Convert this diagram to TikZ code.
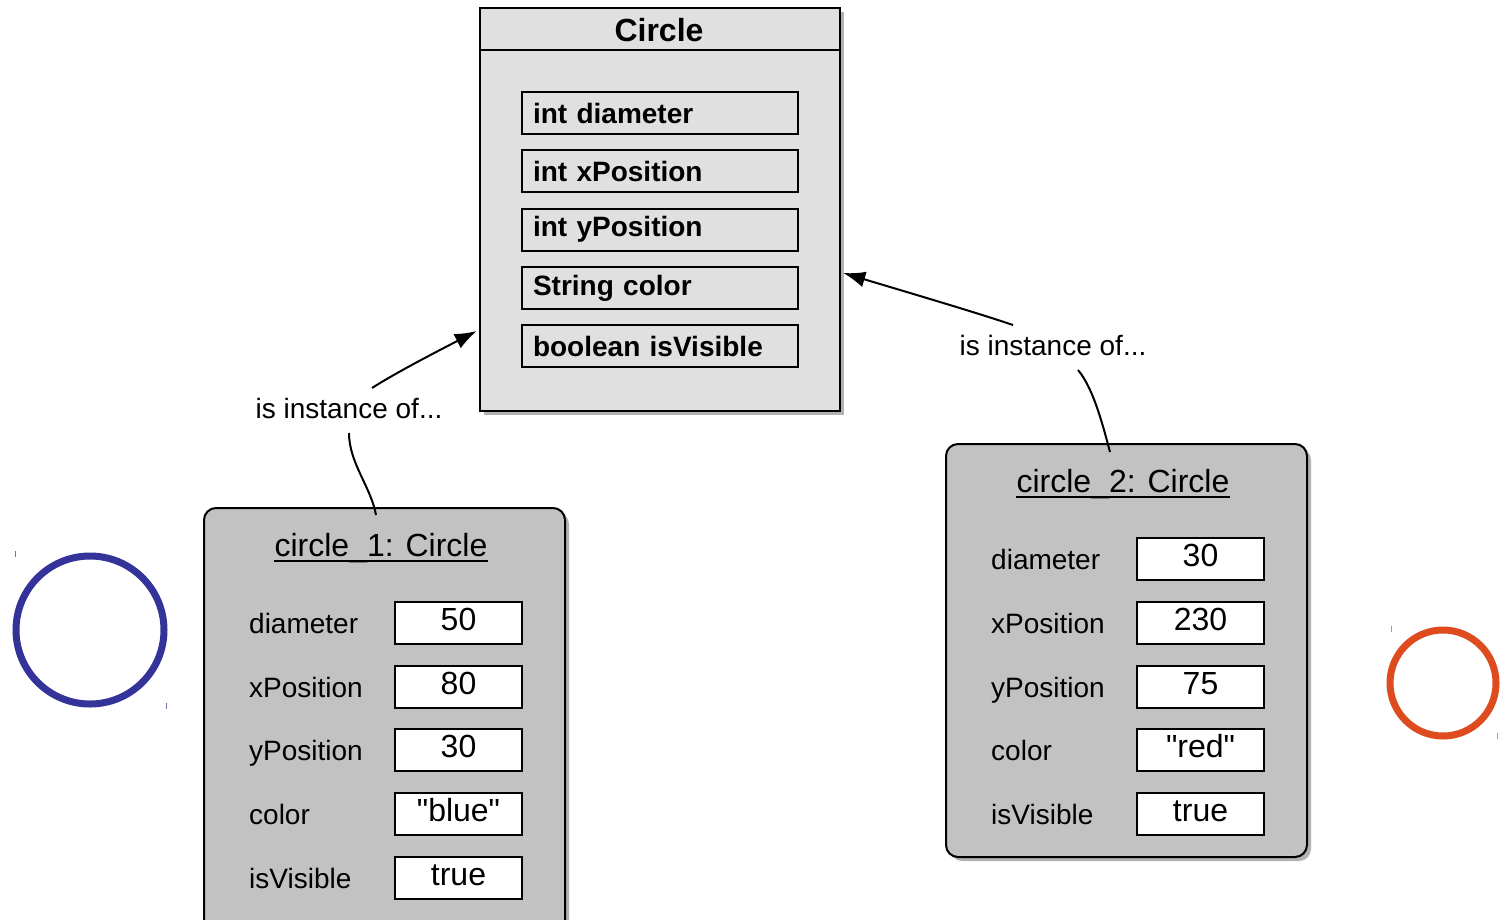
\documentclass[tikz,border=0pt]{standalone}
\usepackage{fontspec}
\setmainfont{Liberation Sans}
\usetikzlibrary{arrows.meta,shadows}
\definecolor{clsfill}{RGB}{224,224,224}
\definecolor{objfill}{RGB}{194,194,194}
\definecolor{cblue}{RGB}{51,51,153}
\definecolor{corange}{RGB}{221,75,30}
\newcommand{\dq}{\XeTeXglyph\XeTeXcharglyph"22\relax}
\tikzset{
  shad/.style={drop shadow={shadow xshift=4pt,shadow yshift=-4pt,fill=black,opacity=0.3}},
  clsbox/.style={draw=black,line width=2.5pt,fill=clsfill,shad,minimum width=360pt,minimum height=403pt,inner sep=0pt},
  attrbox/.style={draw=black,line width=2pt,fill=clsfill,minimum width=276pt,minimum height=42pt,text width=254pt,inner xsep=11pt,inner ysep=0pt,align=left,font=\fontsize{28}{32}\selectfont\bfseries},
  objbox/.style={draw=black,line width=2pt,fill=objfill,rounded corners=12pt,shad,minimum width=361pt,inner sep=0pt},
  objtitle/.style={inner sep=0pt,font=\fontsize{32}{38}\selectfont},
  rowlabel/.style={anchor=base west,inner sep=0pt,font=\fontsize{28}{32}\selectfont},
  valbox/.style={draw=black,line width=2pt,fill=white,minimum width=127pt,minimum height=42pt,inner sep=0pt,text height=23pt,text depth=8pt,font=\fontsize{32}{38}\selectfont},
  instlabel/.style={inner sep=0pt,font=\fontsize{28}{32}\selectfont},
  conn/.style={line width=2pt,black},
  arr/.style={conn,-{Latex[length=22pt,width=16pt]}},
}
\begin{document}
\begin{tikzpicture}[x=1pt,y=-1pt]
\useasboundingbox (0,0) rectangle (1503,919);
% class box
\node[clsbox] (cls) at (660,209.5) {};
\draw[line width=2pt] (cls.west |- 0,50) coordinate (hl) -- (cls.east |- 0,50) coordinate (hr);
\node[inner sep=0pt,font=\fontsize{32}{38}\selectfont\bfseries] (clsname) at (659,30) {Circle};
\node[attrbox] (a1) at (660,113) {int diameter};
\node[attrbox] (a2) at (660,171) {int xPosition};
\node[attrbox] (a3) at (660,229.5) {int yPosition};
\node[attrbox] (a4) at (660,288) {String color};
\node[attrbox] (a5) at (660,346) {boolean isVisible};
% object 1
\node[objbox,minimum height=440pt] (obj1) at (384.5,728) {};
\node[objtitle] (t1) at (381,548) {circle\_1: Circle};
\draw[line width=2pt] ([yshift=-4.8pt]t1.base west) -- ([yshift=-4.8pt]t1.base east);
\node[rowlabel] (l11) at (249,633) {diameter};
\node[rowlabel] (l12) at (249,697) {xPosition};
\node[rowlabel] (l13) at (249,760) {yPosition};
\node[rowlabel] (l14) at (249,824) {color};
\node[rowlabel] (l15) at (249,888) {isVisible};
\node[valbox] (v11) at (458.5,623) {50};
\node[valbox] (v12) at (458.5,687) {80};
\node[valbox] (v13) at (458.5,750) {30};
\node[valbox] (v14) at (458.5,814) {\dq blue\dq};
\node[valbox] (v15) at (458.5,878) {true};
% object 2
\node[objbox,minimum height=413pt] (obj2) at (1126.5,650.5) {};
\node[objtitle] (t2) at (1123,484) {circle\_2: Circle};
\draw[line width=2pt] ([yshift=-4.8pt]t2.base west) -- ([yshift=-4.8pt]t2.base east);
\node[rowlabel] (l21) at (991,569) {diameter};
\node[rowlabel] (l22) at (991,633) {xPosition};
\node[rowlabel] (l23) at (991,697) {yPosition};
\node[rowlabel] (l24) at (991,760) {color};
\node[rowlabel] (l25) at (991,824) {isVisible};
\node[valbox] (v21) at (1200.5,559) {30};
\node[valbox] (v22) at (1200.5,623) {230};
\node[valbox] (v23) at (1200.5,687) {75};
\node[valbox] (v24) at (1200.5,750) {\dq red\dq};
\node[valbox] (v25) at (1200.5,814) {true};
% instance labels and connectors
\node[instlabel] (lab1) at (349,408) {is instance of...};
\node[instlabel] (lab2) at (1053,345) {is instance of...};
\draw[arr] ([xshift=23pt,yshift=20pt]lab1.center) .. controls +(25,-16) and +(-35,18) .. ([xshift=-2pt,yshift=-121.5pt]cls.west);
\draw[conn] ([yshift=-25pt]lab1.center) .. controls +(0,30) and +(-5,-28) .. ([xshift=-8.5pt,yshift=-8pt]obj1.north);
\draw[arr] ([xshift=-40pt,yshift=20pt]lab2.center) .. controls +(-35,-12) and +(50,15) .. ([xshift=2pt,yshift=-63.5pt]cls.east);
\draw[conn] ([xshift=25pt,yshift=-25pt]lab2.center) .. controls +(15,18) and +(-8,-30) .. ([xshift=-16.5pt,yshift=-9pt]obj2.north);
% drawn circles
\draw[line width=7pt,cblue] (90,630) circle[radius=74pt];
\draw[line width=1pt,cblue!70] (15,551) -- (15,557);
\draw[line width=1pt,cblue!70] (166,703) -- (166,709);
\draw[line width=7pt,corange] (1443,683) circle[radius=53pt];
\draw[line width=1pt,corange!70] (1391,626) -- (1391,632);
\draw[line width=1pt,corange!70] (1497,733) -- (1497,739);
\end{tikzpicture}
\end{document}
